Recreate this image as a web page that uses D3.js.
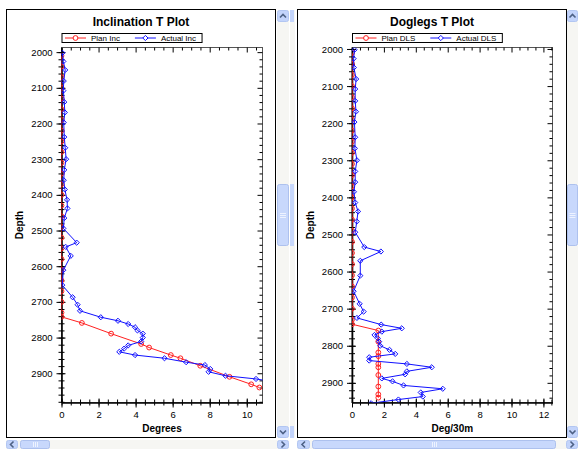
<!DOCTYPE html>
<html>
<head>
<meta charset="utf-8">
<script src="https://cdnjs.cloudflare.com/ajax/libs/d3/7.8.5/d3.min.js"></script>
<style>
  body { margin: 0; background: #fff; }
  svg { display: block; font-family: "Liberation Sans", Arial, sans-serif; }
</style>
</head>
<body>
<div id="chart"></div>
<script>
// survey stations (measured depth) and readings
const actualDepth = [2002, 2026, 2050, 2081, 2108, 2140, 2169, 2197, 2238, 2268, 2300, 2330, 2359, 2385, 2414, 2438, 2465, 2494,
  2534, 2546, 2571, 2611, 2653, 2687, 2708, 2725,
  2743, 2753, 2762, 2771, 2780, 2789, 2800, 2811, 2822, 2831, 2840, 2849, 2858, 2869, 2877, 2888, 2896, 2907, 2916,
  2926, 2937, 2945, 2955];
const actualInc = [0.05, 0.1, 0.2, 0.12, 0.1, 0.15, 0.18, 0.12, 0.15, 0.2, 0.25, 0.15, 0.12, 0.18, 0.3, 0.32, 0.15, 0.1,
  0.82, 0.23, 0.5, 0.1, 0.04, 0.6, 0.87, 1.0,
  2.12, 3.05, 3.6, 3.97, 4.1, 4.39, 4.39, 4.3, 3.6, 3.38, 3.12, 3.97, 5.56, 6.73, 7.74, 8.03, 7.94, 8.85, 10.5,
  11.7, 12.0, 12.3, 12.6];
const actualDls = [0.16, 0.1, 0.12, 0.26, 0.2, 0.2, 0.25, 0.15, 0.2, 0.18, 0.31, 0.2, 0.2, 0.12, 0.2, 0.38, 0.3, 0.2,
  0.77, 1.81, 0.52, 0.52, 0.1, 0.48, 0.73, 0.31,
  1.83, 3.12, 1.87, 1.41, 1.62, 1.7, 1.77, 2.35, 2.71, 1.08, 1.08, 3.44, 5.0, 3.44, 3.33, 1.87, 2.54, 3.23, 5.69,
  4.31, 4.44, 2.91, 1.2];

// well plan
const planDepth = [2010, 2040, 2070, 2100, 2130, 2160, 2190, 2220, 2250, 2280, 2310, 2340, 2370, 2400, 2430, 2460, 2490,
  2520, 2550, 2580, 2610, 2640, 2670, 2700, 2730, 2742,
  2759, 2789, 2818, 2828, 2849, 2858, 2879, 2910, 2931, 2940];
const planInc = [0, 0, 0, 0, 0, 0, 0, 0, 0, 0, 0, 0, 0, 0, 0, 0, 0, 0, 0, 0, 0, 0, 0, 0, 0, 0,
  1.1, 2.68, 4.3, 4.73, 5.9, 6.42, 7.49, 9.07, 10.24, 10.68];
const planDls = [0, 0, 0, 0, 0, 0, 0, 0, 0, 0, 0, 0, 0, 0, 0, 0, 0, 0, 0, 0, 0, 0, 0, 0, 0, 0,
  1.65, 1.65, 1.65, 1.65, 1.65, 1.65, 1.65, 1.65, 1.65, 1.65];

const depthTicks = [2000, 2100, 2200, 2300, 2400, 2500, 2600, 2700, 2800, 2900];
const incTicks = [0, 2, 4, 6, 8, 10];
const dlsTicks = [0, 2, 4, 6, 8, 10, 12];

const PLAN_COLOR = "#ff2020", ACTUAL_COLOR = "#1010ff";
const plotTop = 47.5, plotBottom = 402.5;

const svg = d3.select("#chart").append("svg")
  .attr("width", 578)
  .attr("height", 449);

const panels = [
  {id: "inc", title: "Inclination T Plot", planName: "Plan Inc", actualName: "Actual Inc", xLabel: "Degrees",
   planVal: planInc, actualVal: actualInc, xTicks: incTicks, xMax: 10.85, yDomain: [1987, 2982],
   frameX: 6.5, frameW: 269, left: 61.5, right: 262.5},
  {id: "dls", title: "Doglegs T Plot", planName: "Plan DLS", actualName: "Actual DLS", xLabel: "Deg/30m",
   planVal: planDls, actualVal: actualDls, xTicks: dlsTicks, xMax: 12.57, yDomain: [1996, 2953],
   frameX: 297.5, frameW: 269, left: 352, right: 552.5}
];

const diamond = "M0,-2.6L2.6,0L0,2.6L-2.6,0Z";

function styleAxis(sel, size) {
  sel.attr("font-size", size).attr("font-family", "'Liberation Sans', Arial, sans-serif");
  sel.selectAll("text").attr("fill", "#000");
  sel.selectAll("line").attr("stroke", "#000");
}

function drawPanel(p) {
  const g = svg.append("g");

  g.append("rect")
    .attr("x", p.frameX).attr("y", 9.5)
    .attr("width", p.frameW).attr("height", 428)
    .attr("fill", "#fff").attr("stroke", "#000");

  const x = d3.scaleLinear().domain([0, p.xMax]).range([p.left, p.right]);
  const y = d3.scaleLinear().domain(p.yDomain).range([plotTop, plotBottom]);
  const cx = (p.frameX + p.frameX + p.frameW) / 2;

  g.append("text")
    .attr("x", cx).attr("y", 26)
    .attr("text-anchor", "middle")
    .style("font-size", "12px").style("font-weight", "bold")
    .text(p.title);

  // plot box
  g.append("rect")
    .attr("x", p.left).attr("y", plotTop)
    .attr("width", p.right - p.left).attr("height", plotBottom - plotTop)
    .attr("fill", "none").attr("stroke", "#555");

  const yMinor = d3.range(Math.ceil(p.yDomain[0] / 20) * 20, p.yDomain[1], 20);
  const xMinor = d3.range(0, p.xMax, 0.5);

  // left axis, ticks crossing the line
  const minorL = g.append("g").attr("transform", `translate(${p.left},0)`)
    .call(d3.axisLeft(y).tickValues(yMinor).tickSize(3).tickSizeOuter(0).tickFormat(""));
  minorL.selectAll(".tick line").attr("x1", 3);
  minorL.select(".domain").remove();
  styleAxis(minorL, 9.5);

  const axL = g.append("g").attr("transform", `translate(${p.left},0)`)
    .call(d3.axisLeft(y).tickValues(depthTicks).tickSize(5).tickSizeOuter(0).tickPadding(4).tickFormat(d3.format("d")));
  axL.selectAll(".tick line").attr("x1", 4);
  axL.select(".domain").attr("stroke", "#000").attr("stroke-width", 1.6);
  styleAxis(axL, 9.5);

  // right border ticks (inside)
  const axR = g.append("g").attr("transform", `translate(${p.right},0)`)
    .call(d3.axisLeft(y).tickValues(yMinor).tickSize(3).tickSizeOuter(0).tickFormat(""));
  axR.select(".domain").remove();
  axR.selectAll(".tick line").filter(d => d % 100 === 0).attr("x2", -5);
  styleAxis(axR, 9.5);

  // top border ticks (inside)
  const axT = g.append("g").attr("transform", `translate(0,${plotTop})`)
    .call(d3.axisBottom(x).tickValues(xMinor).tickSize(3).tickSizeOuter(0).tickFormat(""));
  axT.select(".domain").remove();
  axT.selectAll(".tick line").filter(d => d % 2 === 0).attr("y2", 5);
  styleAxis(axT, 9.5);

  // bottom axis
  const minorB = g.append("g").attr("transform", `translate(0,${plotBottom})`)
    .call(d3.axisBottom(x).tickValues(xMinor).tickSize(3).tickSizeOuter(0).tickFormat(""));
  minorB.selectAll(".tick line").attr("y1", -3);
  minorB.select(".domain").remove();
  styleAxis(minorB, 9.5);

  const axB = g.append("g").attr("transform", `translate(0,${plotBottom})`)
    .call(d3.axisBottom(x).tickValues(p.xTicks).tickSize(5).tickSizeOuter(0).tickPadding(4).tickFormat(d3.format("d")));
  axB.selectAll(".tick line").attr("y1", -4);
  axB.select(".domain").attr("stroke", "#000").attr("stroke-width", 1.6);
  styleAxis(axB, 9.5);

  g.append("text")
    .attr("x", (p.left + p.right) / 2).attr("y", 432)
    .attr("text-anchor", "middle")
    .style("font-size", "10px").style("font-weight", "bold")
    .text(p.xLabel);

  g.append("text")
    .attr("transform", `translate(${p.frameX + 16},${(plotTop + plotBottom) / 2}) rotate(-90)`)
    .attr("text-anchor", "middle")
    .style("font-size", "10px").style("font-weight", "bold")
    .text("Depth");

  // data
  svg.append("defs").append("clipPath").attr("id", "clip-" + p.id)
    .append("rect")
    .attr("x", p.left).attr("y", plotTop)
    .attr("width", p.right - p.left).attr("height", plotBottom - plotTop);

  const plot = g.append("g").attr("clip-path", `url(#clip-${p.id})`);
  const line = d3.line().x(d => x(d.v)).y(d => y(d.d));

  const plan = planDepth.map((d, i) => ({d: d, v: p.planVal[i]}));
  const actual = actualDepth.map((d, i) => ({d: d, v: p.actualVal[i]}));

  plot.append("path").datum(plan)
    .attr("d", line).attr("fill", "none")
    .attr("stroke", PLAN_COLOR).attr("stroke-width", 1);
  plot.selectAll(".plan").data(plan).join("circle")
    .attr("class", "plan")
    .attr("cx", d => x(d.v)).attr("cy", d => y(d.d)).attr("r", 2.4)
    .attr("fill", "none").attr("stroke", PLAN_COLOR).attr("stroke-width", 1);

  plot.append("path").datum(actual)
    .attr("d", line).attr("fill", "none")
    .attr("stroke", ACTUAL_COLOR).attr("stroke-width", 1);
  plot.selectAll(".actual").data(actual).join("path")
    .attr("class", "actual")
    .attr("transform", d => `translate(${x(d.v)},${y(d.d)})`)
    .attr("d", diamond)
    .attr("fill", "none").attr("stroke", ACTUAL_COLOR).attr("stroke-width", 1);

  // legend
  const lg = g.append("g").attr("transform", `translate(${p.left + 0.5},33.5)`)
    .style("font-size", "8px");
  const box = lg.append("rect").attr("height", 9).attr("fill", "#fff").attr("stroke", "#000");
  lg.append("line").attr("x1", 3).attr("x2", 24).attr("y1", 4.5).attr("y2", 4.5).attr("stroke", PLAN_COLOR);
  lg.append("circle").attr("cx", 13.5).attr("cy", 4.5).attr("r", 2.4).attr("fill", "#fff").attr("stroke", PLAN_COLOR);
  const t1 = lg.append("text").attr("x", 29).attr("y", 7.5).text(p.planName);
  const x2 = 29 + t1.node().getComputedTextLength() + 15;
  lg.append("line").attr("x1", x2).attr("x2", x2 + 21).attr("y1", 4.5).attr("y2", 4.5).attr("stroke", ACTUAL_COLOR);
  lg.append("path").attr("transform", `translate(${x2 + 10.5},4.5)`).attr("d", diamond)
    .attr("fill", "#fff").attr("stroke", ACTUAL_COLOR);
  const t2 = lg.append("text").attr("x", x2 + 26).attr("y", 7.5).text(p.actualName);
  box.attr("width", x2 + 26 + t2.node().getComputedTextLength() + 6);
}

panels.forEach(drawPanel);

// window scrollbars
function button(x, y, w, h, dir) {
  const b = svg.append("g");
  b.append("rect").attr("x", x + 0.5).attr("y", y + 0.5).attr("width", w - 1).attr("height", h - 1)
    .attr("rx", 2).attr("fill", "#c3d4fb").attr("stroke", "#b2c6f2");
  const mx = x + w / 2, my = y + h / 2;
  const pts = {
    up: [[mx - 3, my + 1.5], [mx, my - 1.5], [mx + 3, my + 1.5]],
    down: [[mx - 3, my - 1.5], [mx, my + 1.5], [mx + 3, my - 1.5]],
    left: [[mx + 1.5, my - 3], [mx - 1.5, my], [mx + 1.5, my + 3]],
    right: [[mx - 1.5, my - 3], [mx + 1.5, my], [mx - 1.5, my + 3]]
  }[dir];
  b.append("path").attr("d", d3.line()(pts)).attr("fill", "none")
    .attr("stroke", "#4d6185").attr("stroke-width", 1.6);
}
function thumb(x, y, w, h, vertical) {
  svg.append("rect").attr("x", x + 0.5).attr("y", y + 0.5).attr("width", w - 1).attr("height", h - 1)
    .attr("rx", 2).attr("fill", "#c8d8fc").attr("stroke", "#adc1ee");
  const mx = x + w / 2, my = y + h / 2;
  for (let k = -2; k <= 2; k += 2) {
    if (vertical) svg.append("line").attr("x1", mx - 3).attr("x2", mx + 3).attr("y1", my + k + 0.5).attr("y2", my + k + 0.5).attr("stroke", "#eef3ff");
    else svg.append("line").attr("x1", mx + k + 0.5).attr("x2", mx + k + 0.5).attr("y1", my - 2.5).attr("y2", my + 2.5).attr("stroke", "#eef3ff");
  }
}
function track(x, y, w, h) {
  svg.append("rect").attr("x", x).attr("y", y).attr("width", w).attr("height", h).attr("fill", "#f6f6f3");
}

// left window
track(277, 10, 12, 428);
button(277, 10, 12, 12, "up");
thumb(277, 184, 12, 62, true);
button(277, 426, 12, 12, "down");
track(6, 440, 283, 9);
button(6, 440, 12, 9, "left");
thumb(20, 440, 30, 9, false);
button(277, 440, 12, 9, "right");
// sliver of the neighbouring pane
track(290, 10, 5, 428);
svg.append("rect").attr("x", 290).attr("y", 10).attr("width", 4).attr("height", 12).attr("fill", "#c3d4fb");
svg.append("rect").attr("x", 290).attr("y", 184).attr("width", 4).attr("height", 62).attr("fill", "#c8d8fc");
svg.append("rect").attr("x", 290).attr("y", 426).attr("width", 4).attr("height", 12).attr("fill", "#c3d4fb");

// right window
track(567, 10, 11, 428);
button(567, 10, 11, 12, "up");
thumb(567, 184, 11, 62, true);
button(567, 426, 11, 12, "down");
track(297, 440, 281, 9);
button(297, 440, 13, 9, "left");
thumb(312, 440, 244, 9, false);
button(566, 440, 12, 9, "right");
</script>
</body>
</html>
